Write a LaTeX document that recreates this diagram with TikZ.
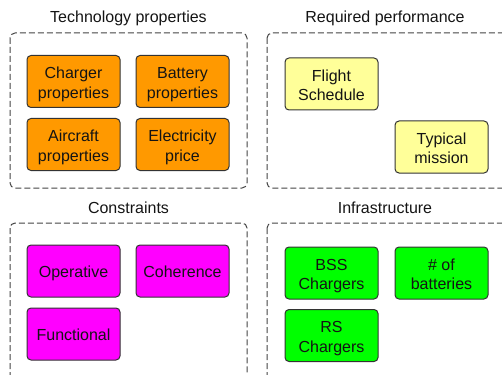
\documentclass[tikz,border=0pt]{standalone}
\usepackage{fontspec}
\setmainfont{Liberation Sans}
\definecolor{orangef}{HTML}{FF9900}
\definecolor{yellowf}{HTML}{FFFF99}
\definecolor{magentaf}{HTML}{FF00FF}
\definecolor{greenf}{HTML}{00FF00}
\definecolor{edge}{HTML}{333333}
\definecolor{dash}{HTML}{444444}
\newcommand\boxtext[1]{\raisebox{-3pt}[\height][\depth]{\begin{tabular}{@{}c@{}}#1\end{tabular}}}
\begin{document}
\begin{tikzpicture}[x=1pt,y=-1pt,
  item/.style={draw=edge,line width=1pt,rounded corners=4pt,minimum width=93pt,minimum height=52pt,
    inner sep=0pt,font=\fontsize{16}{19.5}\selectfont,text=black!92},
  grp/.style={draw=dash,line width=1pt,dash pattern=on 6pt off 3pt,rounded corners=5pt},
  ttl/.style={font=\fontsize{16}{19.5}\selectfont,text=black!92,inner sep=0pt}]
\useasboundingbox (0,0) rectangle (502,374);
\clip (0,0) rectangle (502,374);
% group frames
\draw[grp] (10,33) rectangle (247,188);
\draw[grp] (267,33) rectangle (520,188);
\draw[grp] (10,223) rectangle (247,400);
\draw[grp] (267,223) rectangle (520,400);
% titles
\node[ttl] (t1) at (128.5,18.5) {Technology properties};
\node[ttl] (t2) at (385,18.5) {Required performance};
\node[ttl] (t3) at (128.5,207.5) {Constraints};
\node[ttl] (t4) at (385,207.5) {Infrastructure};
% technology
\node[item,fill=orangef] (charger) at (73.5,81.5) {\boxtext{Charger\\properties}};
\node[item,fill=orangef] (battery) at (182.5,81.5) {\boxtext{Battery\\properties}};
\node[item,fill=orangef] (aircraft) at (73.5,144.5) {\boxtext{Aircraft\\properties}};
\node[item,fill=orangef] (elec) at (182.5,144.5) {\boxtext{Electricity\\price}};
% performance
\node[item,fill=yellowf] (flight) at (331.5,84) {\boxtext{Flight\\Schedule}};
\node[item,fill=yellowf] (mission) at (441.5,147) {\boxtext{Typical\\mission}};
% constraints
\node[item,fill=magentaf] (oper) at (73.5,271) {\boxtext{Operative}};
\node[item,fill=magentaf] (coher) at (182.5,271) {\boxtext{Coherence}};
\node[item,fill=magentaf] (func) at (73.5,334) {\boxtext{Functional}};
% infrastructure
\node[item,fill=greenf] (bss) at (331.5,273) {\boxtext{BSS\\Chargers}};
\node[item,fill=greenf] (nbat) at (441.5,273) {\boxtext{\# of\\batteries}};
\node[item,fill=greenf] (rs) at (331.5,335.5) {\boxtext{RS\\Chargers}};
\end{tikzpicture}
\end{document}
